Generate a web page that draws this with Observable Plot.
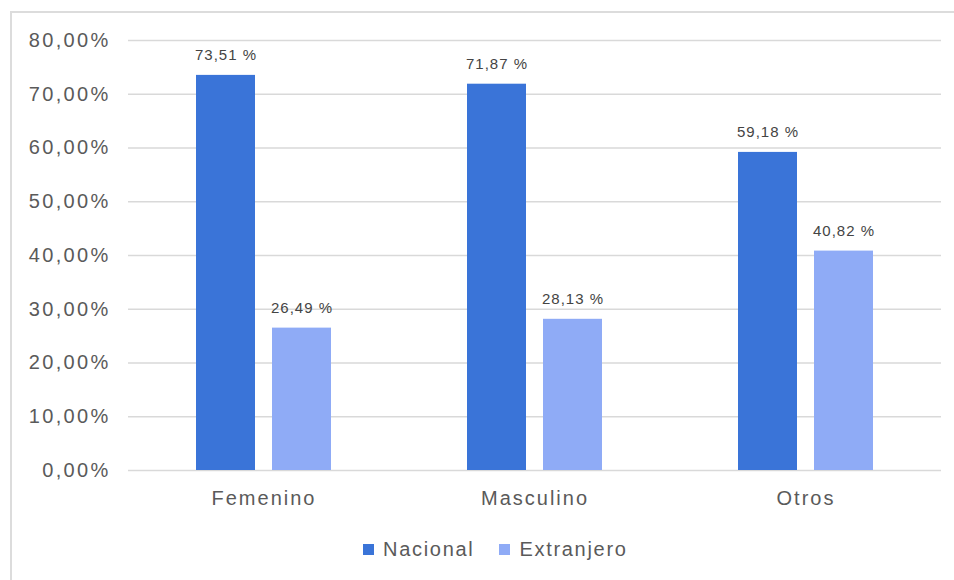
<!DOCTYPE html>
<html>
<head>
<meta charset="utf-8">
<script src="https://cdn.jsdelivr.net/npm/d3@7"></script>
<script src="https://cdn.jsdelivr.net/npm/@observablehq/plot@0.6"></script>
<style>
  html, body { margin: 0; padding: 0; background: #fff; }
  body { width: 954px; height: 580px; overflow: hidden; position: relative; font-family: "Liberation Sans", Arial, sans-serif; }
  #frame { position: absolute; left: 10px; top: 11px; width: 1000px; height: 1000px; border-left: 2px solid #dcdcdc; border-top: 2px solid #dcdcdc; }
  #chart { position: absolute; left: 0; top: 0; }
  #chart svg g[aria-label="y-axis tick label"] text { letter-spacing: 2.3px; }
  #chart svg g[aria-label="fx-axis tick label"] text { letter-spacing: 2px; }
  #chart svg g[aria-label="text"] text { letter-spacing: 1px; }
  #legend { position: absolute; left: 363px; top: 538px; display: flex; align-items: center; font-size: 20px; letter-spacing: 1.7px; color: #5a5a5a; }
  .item { display: flex; align-items: center; margin-right: 25px; }
  .sw { width: 11px; height: 11px; margin-right: 9px; }
</style>
</head>
<body>
<div id="frame"></div>
<div id="chart"></div>
<div id="legend"></div>
<script>
const categories = ["Femenino", "Masculino", "Otros"];
const series = ["Nacional", "Extranjero"];
const nacional = [73.51, 71.87, 59.18];
const extranjero = [26.49, 28.13, 40.82];
const yTicks = [0, 10, 20, 30, 40, 50, 60, 70, 80];
const colors = ["#3a74d8", "#8fabf6"];

const data = [];
categories.forEach((c, i) => {
  data.push({cat: c, series: "Nacional", value: nacional[i]});
  data.push({cat: c, series: "Extranjero", value: extranjero[i]});
});

const fmtTick = v => v.toFixed(2).replace(".", ",") + "%";
const fmtVal = v => v.toFixed(2).replace(".", ",") + " %";

const chart = Plot.plot({
  width: 954,
  height: 530,
  marginLeft: 127,
  marginRight: 12,
  marginTop: 40,
  marginBottom: 60,
  style: {fontFamily: "'Liberation Sans', Arial, sans-serif", color: "#5a5a5a", background: "transparent"},
  fx: {domain: categories, padding: 0},
  x: {domain: series, paddingInner: 0.2208, paddingOuter: 0.874, axis: null},
  y: {domain: [0, 80]},
  color: {domain: series, range: colors},
  marks: [
    Plot.gridY(yTicks, {stroke: "#d9d9d9", strokeOpacity: 1, strokeWidth: 1.6}),
    Plot.axisY(yTicks, {tickSize: 0, tickPadding: 18, fontSize: 20, tickFormat: fmtTick, label: null, fill: "#5a5a5a"}),
    Plot.axisFx({anchor: "bottom", tickSize: 0, tickPadding: 20, fontSize: 20, label: null, fill: "#5a5a5a"}),
    Plot.barY(data, {fx: "cat", x: "series", y: "value", fill: "series"}),
    Plot.text(data, {fx: "cat", x: "series", y: "value", text: d => fmtVal(d.value), lineAnchor: "bottom", dy: -15, fontSize: 15, fill: "#444"})
  ]
});
document.getElementById("chart").appendChild(chart);

const legend = document.getElementById("legend");
series.forEach((s, i) => {
  const it = document.createElement("div");
  it.className = "item";
  const sw = document.createElement("span");
  sw.className = "sw";
  sw.style.background = colors[i];
  const t = document.createElement("span");
  t.textContent = s;
  it.appendChild(sw);
  it.appendChild(t);
  legend.appendChild(it);
});
</script>
</body>
</html>
